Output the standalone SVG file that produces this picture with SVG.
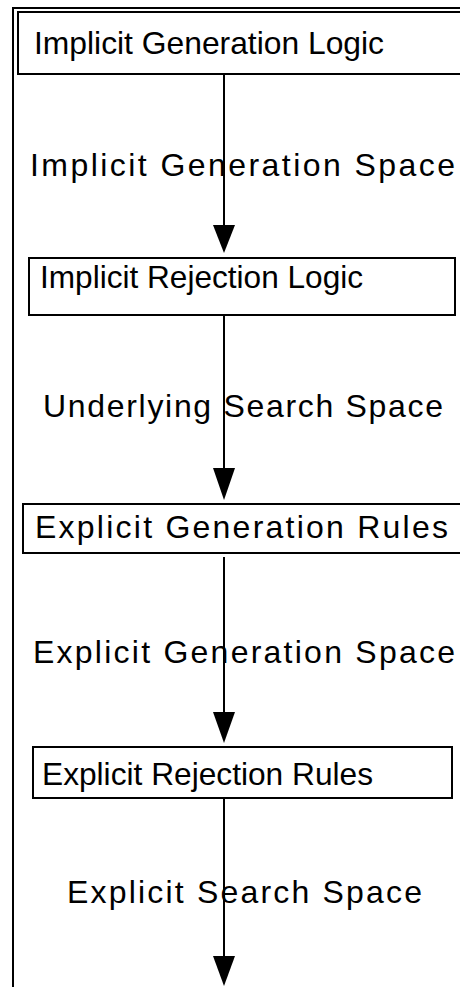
<svg xmlns="http://www.w3.org/2000/svg" width="460" height="987" viewBox="0 0 460 987">
  <style>
    .frame { fill: none; stroke: #000; stroke-width: 2; }
    .box { fill: #fff; stroke: #000; stroke-width: 2; }
    .edge { stroke: #000; stroke-width: 2; fill: none; }
    .head { fill: #000; stroke: none; }
    text { font-family: "Liberation Sans", Arial, sans-serif; fill: #000; }
    .node-text { font-size: 32px; }
    .edge-text { font-size: 32px; }
  </style>
  <rect width="460" height="987" fill="#fff"/>

  <!-- outer frame (left and top edges) -->
  <path class="frame" d="M13 987 V8 H462"/>

  <g id="connectors">
    <line class="edge" x1="224" y1="74" x2="224" y2="228"/>
    <polygon class="head" points="213,225 235,225 224,253"/>
    <line class="edge" x1="224" y1="315" x2="224" y2="471"/>
    <polygon class="head" points="213,468 235,468 224,500"/>
    <line class="edge" x1="224" y1="557" x2="224" y2="715"/>
    <polygon class="head" points="213,712 235,712 224,743"/>
    <line class="edge" x1="224" y1="797" x2="224" y2="959"/>
    <polygon class="head" points="213,956 235,956 224,986"/>
  </g>

  <g id="label-implicit-generation-space">
    <text class="edge-text" x="30" y="176" textLength="425" lengthAdjust="spacing">Implicit Generation Space</text>
  </g>
  <g id="label-underlying-search-space">
    <text class="edge-text" x="43" y="417" textLength="400" lengthAdjust="spacing">Underlying Search Space</text>
  </g>
  <g id="label-explicit-generation-space">
    <text class="edge-text" x="33" y="663" textLength="422" lengthAdjust="spacing">Explicit Generation Space</text>
  </g>
  <g id="label-explicit-search-space">
    <text class="edge-text" x="67" y="903" textLength="355" lengthAdjust="spacing">Explicit Search Space</text>
  </g>

  <g id="node-implicit-generation-logic">
    <rect class="box" x="18" y="12" width="446" height="62"/>
    <text class="node-text" x="34" y="54" textLength="350" lengthAdjust="spacingAndGlyphs">Implicit Generation Logic</text>
  </g>
  <g id="node-implicit-rejection-logic">
    <rect class="box" x="29" y="258" width="426" height="57"/>
    <text class="node-text" x="40" y="288" textLength="323" lengthAdjust="spacingAndGlyphs">Implicit Rejection Logic</text>
  </g>
  <g id="node-explicit-generation-rules">
    <rect class="box" x="23" y="504" width="441" height="49"/>
    <text class="node-text" x="35" y="538" textLength="413" lengthAdjust="spacing">Explicit Generation Rules</text>
  </g>
  <g id="node-explicit-rejection-rules">
    <rect class="box" x="33" y="747" width="419" height="51"/>
    <text class="node-text" x="42" y="785" textLength="331" lengthAdjust="spacingAndGlyphs">Explicit Rejection Rules</text>
  </g>
</svg>
